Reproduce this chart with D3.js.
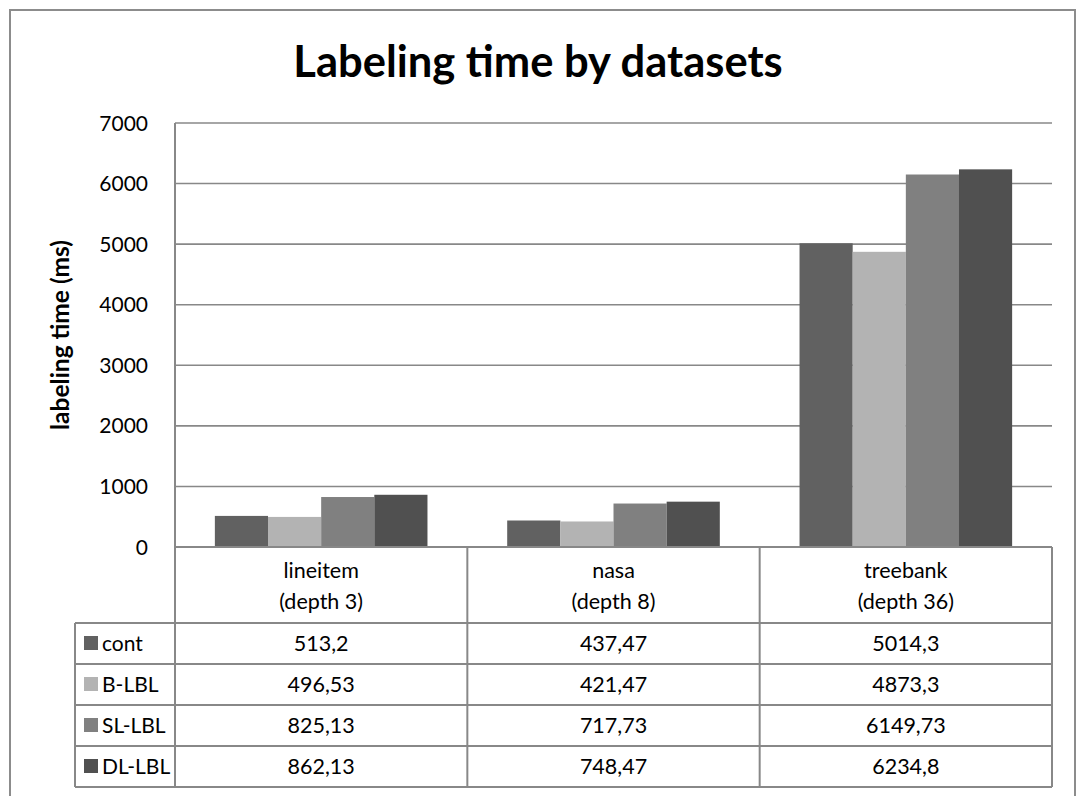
<!DOCTYPE html>
<html>
<head>
<meta charset="utf-8">
<script src="https://cdn.jsdelivr.net/npm/d3@7"></script>
<style>
  html, body { margin: 0; padding: 0; background: #fff; }
  svg { display: block; font-family: Lato, "Open Sans", sans-serif; }
</style>
</head>
<body>
<div id="chart"></div>
<script>
const categories = ["lineitem", "nasa", "treebank"];
const categoryNotes = ["(depth 3)", "(depth 8)", "(depth 36)"];
const seriesNames = ["cont", "B-LBL", "SL-LBL", "DL-LBL"];
const seriesColors = ["#616161", "#b3b3b3", "#808080", "#505050"];
const contValues = [513.2, 437.47, 5014.3];
const bLblValues = [496.53, 421.47, 4873.3];
const slLblValues = [825.13, 717.73, 6149.73];
const dlLblValues = [862.13, 748.47, 6234.8];
const tableLabels = [
  ["513,2", "437,47", "5014,3"],
  ["496,53", "421,47", "4873,3"],
  ["825,13", "717,73", "6149,73"],
  ["862,13", "748,47", "6234,8"]
];
const yTicks = [0, 1000, 2000, 3000, 4000, 5000, 6000, 7000];

const seriesValues = [contValues, bLblValues, slLblValues, dlLblValues];

const width = 1077;
const height = 796;
const plot = { left: 175, right: 1052, top: 123, bottom: 547 };
const headerBottom = 623;
const rowH = 41;
const tableLeft = 75;

const svg = d3.select("#chart")
  .append("svg")
  .attr("width", width)
  .attr("height", height);

// chart border
svg.append("rect")
  .attr("x", 10).attr("y", 10)
  .attr("width", 1065).attr("height", 800)
  .attr("fill", "none")
  .attr("stroke", "#8c8c8c")
  .attr("stroke-width", 2);

svg.append("text")
  .attr("x", 538).attr("y", 77)
  .attr("text-anchor", "middle")
  .attr("font-size", 43.5)
  .attr("font-weight", 700)
  .attr("fill", "#000")
  .text("Labeling time by datasets");

const y = d3.scaleLinear().domain([0, 7000]).range([plot.bottom, plot.top]);
const x = d3.scaleBand().domain(categories).range([plot.left, plot.right]);
const xs = d3.scaleBand().domain(seriesNames).range([0, x.bandwidth()])
  .paddingInner(0).paddingOuter(0.75);

// gridlines
svg.append("g")
  .selectAll("line")
  .data(yTicks.filter((d) => d > 0))
  .join("line")
  .attr("x1", plot.left).attr("x2", plot.right)
  .attr("y1", (d) => y(d)).attr("y2", (d) => y(d))
  .attr("stroke", "#888")
  .attr("stroke-width", 1.6);

// y tick labels
svg.append("g")
  .selectAll("text")
  .data(yTicks)
  .join("text")
  .attr("x", 148)
  .attr("y", (d) => y(d) + 7.5)
  .attr("text-anchor", "end")
  .attr("font-size", 21)
  .attr("fill", "#000")
  .text((d) => d);

svg.append("text")
  .attr("transform", `translate(69,${(plot.top + plot.bottom) / 2}) rotate(-90)`)
  .attr("text-anchor", "middle")
  .attr("font-size", 24.5)
  .attr("font-weight", 700)
  .text("labeling time (ms)");

// bars
const groups = svg.append("g")
  .selectAll("g")
  .data(categories)
  .join("g")
  .attr("transform", (d) => `translate(${x(d)},0)`);

groups.selectAll("rect")
  .data((d, i) => seriesNames.map((s, j) => ({ s, j, v: seriesValues[j][i] })))
  .join("rect")
  .attr("x", (d) => xs(d.s))
  .attr("width", xs.bandwidth())
  .attr("y", (d) => y(d.v))
  .attr("height", (d) => y(0) - y(d.v))
  .attr("fill", (d) => seriesColors[d.j]);

// table lines
const lines = svg.append("g").attr("stroke", "#888").attr("stroke-width", 2);
lines.append("line")
  .attr("x1", plot.left).attr("x2", plot.left)
  .attr("y1", plot.top).attr("y2", headerBottom + rowH * 4);
lines.append("line")
  .attr("x1", plot.left).attr("x2", plot.right)
  .attr("y1", plot.bottom).attr("y2", plot.bottom);
lines.selectAll(".vline")
  .data(categories)
  .join("line")
  .attr("class", "vline")
  .attr("x1", (d) => x(d) + x.bandwidth()).attr("x2", (d) => x(d) + x.bandwidth())
  .attr("y1", plot.bottom).attr("y2", headerBottom + rowH * 4);
lines.selectAll(".hline")
  .data(d3.range(5))
  .join("line")
  .attr("class", "hline")
  .attr("x1", tableLeft).attr("x2", plot.right)
  .attr("y1", (d) => headerBottom + d * rowH).attr("y2", (d) => headerBottom + d * rowH);
lines.append("line")
  .attr("x1", tableLeft).attr("x2", tableLeft)
  .attr("y1", headerBottom).attr("y2", headerBottom + rowH * 4);

// category header
const header = svg.append("g")
  .selectAll("g")
  .data(categories)
  .join("g");
header.append("text")
  .attr("x", (d) => x(d) + x.bandwidth() / 2)
  .attr("y", 578)
  .attr("text-anchor", "middle")
  .attr("font-size", 21.5)
  .text((d) => d);
header.append("text")
  .attr("x", (d) => x(d) + x.bandwidth() / 2)
  .attr("y", 609)
  .attr("text-anchor", "middle")
  .attr("font-size", 21.5)
  .text((d, i) => categoryNotes[i]);

// legend rows
const rows = svg.append("g")
  .selectAll("g")
  .data(seriesNames)
  .join("g")
  .attr("transform", (d, i) => `translate(0,${headerBottom + i * rowH})`);
rows.append("rect")
  .attr("x", 84).attr("y", 13)
  .attr("width", 14).attr("height", 14)
  .attr("fill", (d, i) => seriesColors[i]);
rows.append("text")
  .attr("x", 102).attr("y", 28)
  .attr("font-size", 21)
  .text((d) => d);
rows.selectAll(".val")
  .data((d, i) => tableLabels[i])
  .join("text")
  .attr("class", "val")
  .attr("x", (d, j) => x(categories[j]) + x.bandwidth() / 2)
  .attr("y", 28)
  .attr("text-anchor", "middle")
  .attr("font-size", 21.5)
  .text((d) => d);
</script>
</body>
</html>
